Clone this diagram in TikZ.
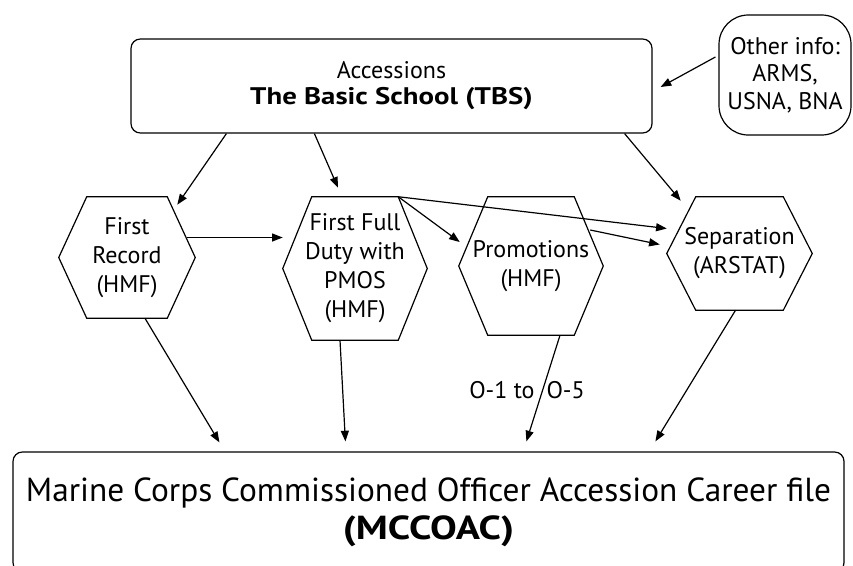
\documentclass[tikz,border=0pt]{standalone}
\usepackage{fontspec}
\setmainfont{PT Sans}
\newfontfamily\widefont{PT Sans}[FakeStretch=1.2]
\usetikzlibrary{calc, arrows.meta, positioning}

% hexagon outline round a (rectangular) node: name, inset of the points
\newcommand{\hexframe}[2]{%
  \draw[hexline] (#1.west) -- ([xshift=#2]#1.north west) -- ([xshift=-#2]#1.north east)
    -- (#1.east) -- ([xshift=-#2]#1.south east) -- ([xshift=#2]#1.south west) -- cycle;}

\begin{document}
\begin{tikzpicture}[x=0.75pt, y=-0.75pt, >={Triangle[length=8pt, width=6pt]},
    box/.style   ={draw, rectangle, rounded corners=7pt, line width=0.9pt,
                   align=center, inner sep=0pt},
    hexbox/.style={rectangle, inner sep=0pt, align=center,
                   font=\fontsize{18}{21.75}\selectfont},
    hexline/.style={line width=0.9pt, line join=miter},
    link/.style  ={->, line width=0.9pt}
  ]
  \useasboundingbox (0,0) rectangle (853,565);
  \clip (0,0) rectangle (853,565);

  % Nodes
  \node[box, minimum width=390.75pt, minimum height=70.5pt,
        font=\fontsize{18}{19.5}\selectfont] (tbs) at (391.5,86)
        {Accessions\\{\widefont\bfseries The Basic School (TBS)}};
  \node[box, rounded corners=22pt, minimum width=99pt, minimum height=90pt,
        font=\fontsize{18}{20.6}\selectfont] (other) at (785,75)
        {Other info:\\ARMS,\\USNA, BNA};

  \node[hexbox, minimum width=102pt, minimum height=90.75pt] (rec) at (127,257.5)
        {First\\Record\\(HMF)};
  \node[hexbox, minimum width=108pt, minimum height=107.25pt] (ffd) at (355,268.5)
        {First Full\\Duty with\\PMOS\\(HMF)};
  \node[hexbox, minimum width=108pt, minimum height=103.5pt] (pro) at (531,266)
        {Promotions\\(HMF)};
  \node[hexbox, minimum width=108.75pt, minimum height=84.75pt] (sep) at (739.5,253.5)
        {Separation\\(ARSTAT)};
  \hexframe{rec}{21pt}
  \hexframe{ffd}{21.75pt}
  \hexframe{pro}{21.75pt}
  \hexframe{sep}{21.75pt}

  \node[box, minimum width=623.25pt, minimum height=90pt,
        font=\fontsize{25}{28.5}\selectfont] (mcc) at (428.5,512)
        {Marine Corps Commissioned Officer Accession Career file\\{\widefont\bfseries (MCCOAC)}};

  % Accessions -> first records
  \draw[link] ($(tbs.south west)+(96,0)$) -- ($(rec.north east)+(-18,8)$);
  \draw[link] ($(tbs.south west)+(184,0)$) -- ($(ffd.north)+(-17,-9)$);
  \draw[link] ($(tbs.south east)+(-28,0)$) -- ($(sep.north west)+(14,4)$);
  \draw[link] ($(other.west)+(-3,-18)$) -- ($(tbs.east)+(8,1)$);

  % between the records
  \draw[link] ($(rec.east)+(-8,-20)$) -- ($(ffd.west)+(0,-31)$);
  \draw[link] ($(ffd.north east)+(-29,0)$) -- ($(pro.west)+(1,-24)$);
  \draw[link] ($(ffd.north east)+(-29,0)$) -- ($(sep.west)+(0,-25)$);
  \draw[link] ($(pro.east)+(-13,-36)$) -- ($(sep.west)+(-7,-9)$);

  % records -> career file
  \draw[link] ($(rec.south)+(18,0)$) -- ($(mcc.north west)+(207,-9)$);
  \draw[link] ($(ffd.south)+(-15,0)$) -- ($(mcc.north west)+(333,-10)$);
  \draw[link] ($(pro.south)+(29,0)$) -- ($(mcc.north west)+(514,-10)$);
  \draw[link] ($(sep.south)+(-4,0)$) -- ($(mcc.north west)+(643,-10)$);
  \node[font=\fontsize{18}{21}\selectfont] (rank) at (527,390) {O-1 to\hspace{0.5em}O-5};
\end{tikzpicture}
\end{document}
